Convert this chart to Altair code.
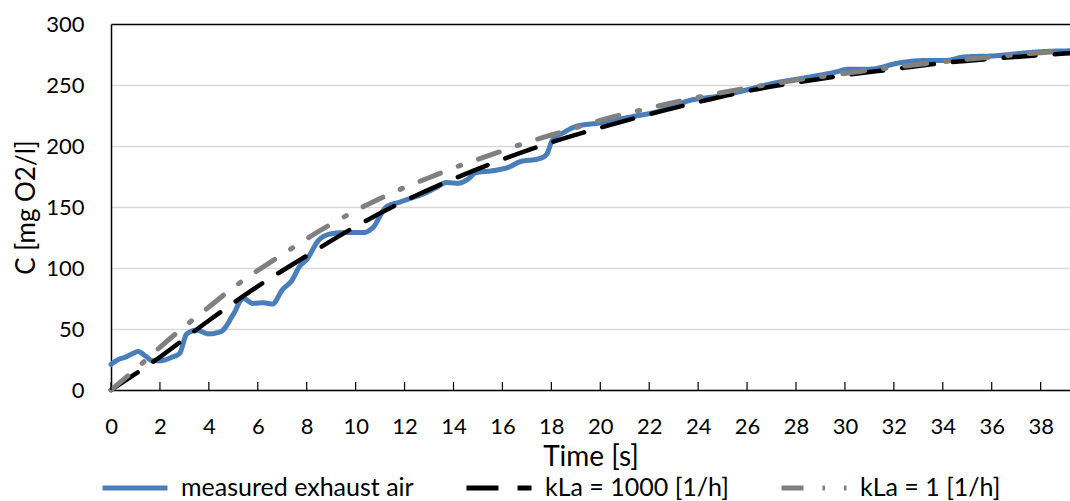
import altair as alt
import pandas as pd

# ---- data ----
meas_t = [0.0, 0.3, 0.6, 0.9, 1.1, 1.4, 1.7, 2.0, 2.5, 2.8, 3.1, 3.5, 4.0, 4.5, 5.0, 5.4,
          5.8, 6.2, 6.6, 7.0, 7.4, 7.7, 8.0, 8.5, 9.0, 9.5, 10.3, 10.7, 11.25, 11.8, 12.3,
          12.8, 13.3, 13.7, 14.2, 14.6, 14.9, 15.7, 16.3, 16.7, 17.5, 17.8, 18.05, 18.5,
          19.0, 20.0, 20.5, 21.3, 22.3, 23.0, 23.6, 24.9, 26.2, 27.0, 28.4, 29.5, 30.2,
          31.0, 32.2, 33.2, 34.1, 34.9, 36.2, 37.2, 38.2, 39.2]
meas_c = [21, 25, 27, 30, 31.5, 28, 24, 24, 27, 30, 46, 49, 46, 48, 62, 75,
          71, 71.5, 70.5, 82, 90, 101, 107, 123, 128, 129, 129, 133, 150, 154, 157.5,
          161, 166, 170, 169.5, 173, 178, 180, 183, 187, 189.6, 193, 205, 211,
          216, 219, 221, 224, 228, 233, 237, 241, 247, 251, 256, 260, 263,
          263, 268, 270, 270, 273, 274, 276, 277.5, 278]

k1000_t = [0, 2, 4, 6, 8, 10, 12, 14, 16, 18, 20, 22, 24, 26, 28, 30, 32, 34, 36, 38, 39.2]
k1000_c = [0, 27, 57, 85, 110, 134, 155, 173, 189, 203, 215, 226, 236, 245, 252, 258,
           263, 268, 271.5, 274.5, 276]

k1_t = [0, 1, 2, 3, 4, 5, 6, 7, 8, 9, 10, 11, 12, 13, 14, 15, 16, 17, 18, 19, 20, 22, 24,
        26, 28, 30, 32, 34, 36, 38, 39.2]
k1_c = [0, 17, 35, 52, 68, 84, 98, 111, 124, 136, 147, 157, 166, 174, 182, 189, 196, 203,
        209, 215, 221, 231, 240, 247.5, 254, 259.5, 264.5, 269, 273, 276.5, 278]

x_ticks = [0, 2, 4, 6, 8, 10, 12, 14, 16, 18, 20, 22, 24, 26, 28, 30, 32, 34, 36, 38]
y_ticks = [0, 50, 100, 150, 200, 250, 300]

series_names = ["measured exhaust air", "kLa = 1000 [1/h]", "kLa = 1 [1/h]"]
series_colors = ["#4a7ebb", "#000000", "#808080"]
series_dash = [[1, 0], [32, 19], [22, 19, 2.5, 19]]

df = pd.concat([
    pd.DataFrame({"t": meas_t, "c": meas_c, "series": series_names[0]}),
    pd.DataFrame({"t": k1000_t, "c": k1000_c, "series": series_names[1]}),
    pd.DataFrame({"t": k1_t, "c": k1_c, "series": series_names[2]}),
], ignore_index=True)
tick_df = pd.DataFrame({"t": x_ticks})

FONT = "Lato"
xscale = alt.Scale(domain=[0, 39.2], nice=False, zero=False)
yscale = alt.Scale(domain=[0, 300], nice=False)

xenc = alt.X("t:Q", scale=xscale,
             axis=alt.Axis(values=x_ticks, title="Time [s]", grid=False, ticks=False, tickSize=0,
                           labelPadding=26, labelFontSize=22, titleFontSize=28, titlePadding=6,
                           domainColor="black", domainWidth=1.5, labelFlush=False,
                           labelOverlap=False))
yenc = alt.Y("c:Q", scale=yscale,
             axis=alt.Axis(values=y_ticks, title="C [mg O2/l]", grid=True,
                           gridColor={"condition": {"test": "datum.value === 300", "value": "black"},
                                      "value": "#d9d9d9"},
                           gridWidth=1.5, ticks=False, tickSize=0, labelPadding=27,
                           labelFontSize=22, titleFontSize=26, titlePadding=6,
                           domainColor="black", domainWidth=1.5))

color = alt.Color("series:N", scale=alt.Scale(domain=series_names, range=series_colors),
                  legend=alt.Legend(title=None))
dash = alt.StrokeDash("series:N", scale=alt.Scale(domain=series_names, range=series_dash),
                      legend=alt.Legend(title=None))


def line_layer(name, width):
    return (alt.Chart(df)
            .transform_filter(alt.datum.series == name)
            .mark_line(strokeWidth=width, interpolate="monotone", strokeCap="round")
            .encode(x=xenc, y=yenc, color=color, strokeDash=dash))


ticks = (alt.Chart(tick_df)
         .mark_rule(color="black", strokeWidth=1.2)
         .encode(x=xenc, y=alt.datum(0), y2=alt.datum(6.5)))

chart = (alt.layer(line_layer(series_names[0], 5), line_layer(series_names[1], 4.5),
                   line_layer(series_names[2], 5), ticks)
         .properties(width=959, height=366,
                     padding={"left": 111, "top": 24, "right": 0, "bottom": 111},
                     autosize=alt.AutoSizeParams(type="none"))
         .configure_view(strokeWidth=0)
         .configure_axis(labelFont=FONT, titleFont=FONT, labelColor="black", titleColor="black",
                         titleFontWeight="normal")
         .configure_legend(orient="none", legendX=-11, legendY=429, direction="horizontal",
                           symbolType="stroke", symbolSize=4225, symbolStrokeWidth=5,
                           labelFont=FONT, labelFontSize=25, labelColor="black",
                           columnPadding=42, labelOffset=11, padding=0, labelLimit=0))

chart.save("out.html", embed_options={"renderer": "svg", "actions": False})
